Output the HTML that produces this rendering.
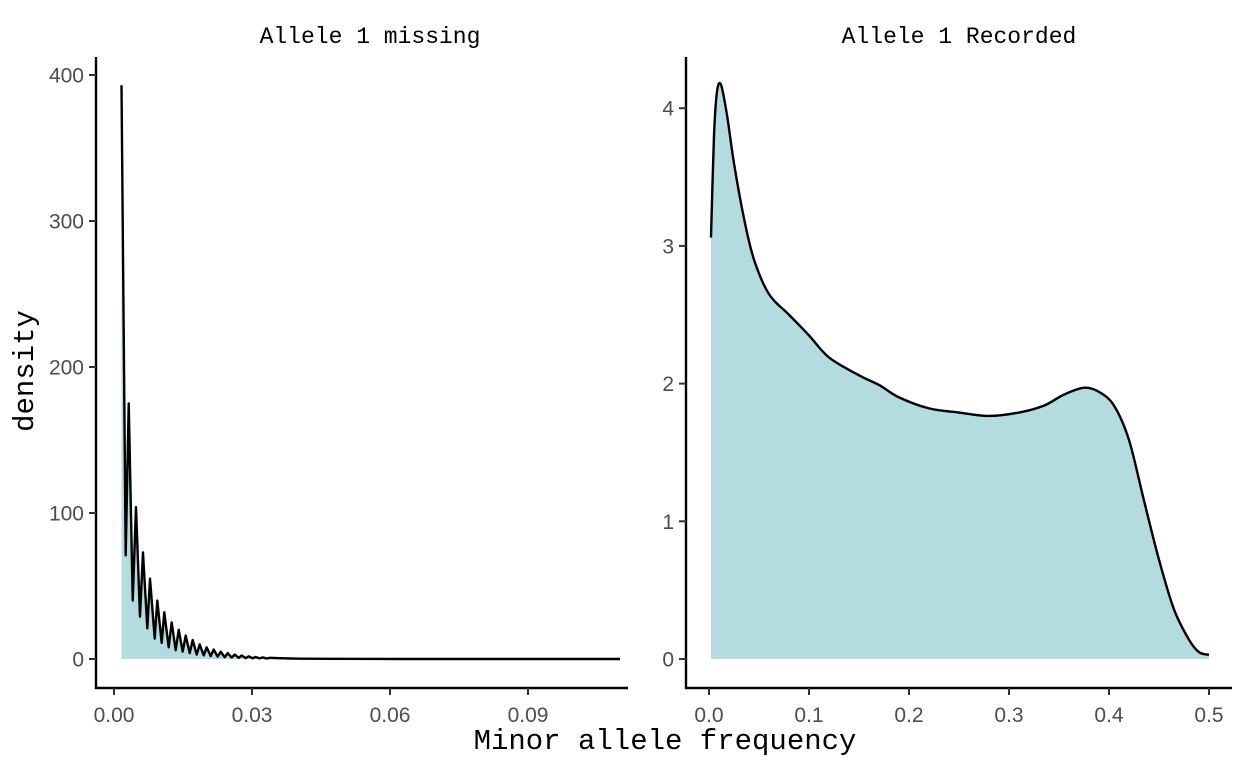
<!DOCTYPE html>
<html><head><meta charset="utf-8"><style>
html,body{margin:0;padding:0;background:#fff;}
svg{display:block;}
.tk{font-family:"Liberation Sans",sans-serif;font-size:21px;fill:#4d4d4d;}
.mono{font-family:"Liberation Mono",monospace;fill:#000;}
</style></head><body>
<svg id="c" width="1248" height="768"></svg>
<script>
// Left panel: Allele 1 missing
const leftX=[0.00163,0.00254,0.00320,0.00407,0.00478,0.00565,0.00630,0.00724,0.00783,0.00885,0.00941,0.01037,0.01093,0.01189,0.01254,0.01341,0.01407,0.01493,0.01559,0.01646,0.01711,0.01798,0.01863,0.01950,0.02015,0.02102,0.02167,0.02254,0.02320,0.02407,0.02472,0.02559,0.02624,0.02711,0.02776,0.02863,0.02928,0.03015,0.03080,0.03167,0.03233,0.03320,0.03385,0.03537,0.03689,0.03841,0.04043,0.04696,0.06217,0.110];
const leftY=[393,71,175,40,104,29,73,21,55,14,40,11,32,8,25,6,20,5,16,4,13,3,10,2.5,8,2,6.5,1.6,5,1.2,4,1,3,0.8,2.4,0.6,1.8,0.5,1.4,0.4,1.1,0.3,0.8,0.6,0.45,0.35,0.2,0.1,0,0];
const leftXTicks=[0,0.03,0.06,0.09];
const leftXLabels=["0.00","0.03","0.06","0.09"];
const leftYTicks=[0,100,200,300,400];
// Right panel: Allele 1 Recorded
const rightX=[0.002,0.005,0.008,0.012,0.018,0.025,0.035,0.045,0.060,0.080,0.100,0.120,0.150,0.170,0.190,0.220,0.250,0.280,0.310,0.335,0.355,0.375,0.390,0.405,0.420,0.435,0.450,0.465,0.480,0.490,0.500];
const rightY=[3.06,3.8,4.12,4.17,3.95,3.6,3.2,2.9,2.65,2.5,2.35,2.19,2.06,1.99,1.9,1.82,1.79,1.765,1.79,1.84,1.92,1.97,1.94,1.84,1.59,1.15,0.72,0.36,0.14,0.05,0.03];
const rightXTicks=[0,0.1,0.2,0.3,0.4,0.5];
const rightXLabels=["0.0","0.1","0.2","0.3","0.4","0.5"];
const rightYTicks=[0,1,2,3,4];

const NS="http://www.w3.org/2000/svg";
const svg=document.getElementById('c');
function mk(t,a,p){const e=document.createElementNS(NS,t);for(const k in a)e.setAttribute(k,a[k]);(p||svg).appendChild(e);return e;}

function panel(o){
  const g=mk('g',{});
  
  
  const sx=v=>o.x0+(v-o.xmin)*o.xs, sy=v=>o.y0-v*o.ys;
  const xs=o.X.map(sx), ys=o.Y.map(sy);
  let d;
  if(o.smooth){
    d='M'+xs[0]+','+ys[0];
    for(let i=0;i<xs.length-1;i++){
      const p0=i>0?i-1:i,p3=i+2<xs.length?i+2:i+1;
      const c1x=xs[i]+(xs[i+1]-xs[p0])/6,c1y=ys[i]+(ys[i+1]-ys[p0])/6;
      const c2x=xs[i+1]-(xs[p3]-xs[i])/6,c2y=ys[i+1]-(ys[p3]-ys[i])/6;
      d+=' C'+c1x+','+c1y+' '+c2x+','+c2y+' '+xs[i+1]+','+ys[i+1];
    }
  } else d='M'+xs.map((x,i)=>x+','+ys[i]).join(' L');
  const area=mk('path',{d:d+' L'+xs[xs.length-1]+','+sy(0)+' L'+xs[0]+','+sy(0)+' Z',fill:'#b4dce0',stroke:'none'},g);
  
  
  const ln=mk('path',{d:d,fill:'none',stroke:'#000','stroke-width':2.4,'stroke-linejoin':'round'},g);
  
  
  mk('line',{x1:o.ax,y1:57,x2:o.ax,y2:689,stroke:'#000','stroke-width':2.4},g);
  mk('line',{x1:o.ax-1,y1:688,x2:o.axEnd,y2:688,stroke:'#000','stroke-width':2.4},g);
  o.xt.forEach((v,i)=>{
    const x=sx(v);
    mk('line',{x1:x,y1:688,x2:x,y2:695,stroke:'#333','stroke-width':2},g);
    const t=mk('text',{x:x,y:722,'text-anchor':'middle',class:'tk'},g);t.textContent=o.xl[i];
    
    
  });
  o.yt.forEach(v=>{
    const y=sy(v);
    mk('line',{x1:o.ax-7,y1:y,x2:o.ax,y2:y,stroke:'#333','stroke-width':2},g);
    const t=mk('text',{x:o.ax-12,y:y+7.5,'text-anchor':'end',class:'tk'},g);t.textContent=String(v);
    
    
  });
  const st=mk('text',{x:o.tx,y:43,'text-anchor':'middle',class:'mono','font-size':'23px'},g);
  st.textContent=o.title;
  
  
}
panel({name:'panel-allele-missing',X:leftX,Y:leftY,xmin:0,x0:114,xs:138/0.03,y0:659,ys:1.46,ax:96,axEnd:628,xt:leftXTicks,xl:leftXLabels,yt:leftYTicks,title:'Allele 1 missing',tx:370,smooth:false});
panel({name:'panel-allele-recorded',X:rightX,Y:rightY,xmin:0,x0:709,xs:1000,y0:659,ys:137.7,ax:686,axEnd:1232,xt:rightXTicks,xl:rightXLabels,yt:rightYTicks,title:'Allele 1 Recorded',tx:959,smooth:true});

const xt=mk('text',{x:665,y:749,'text-anchor':'middle',class:'mono','font-size':'29px'});
xt.textContent='Minor allele frequency';


const yt=mk('text',{x:0,y:0,'text-anchor':'middle',class:'mono','font-size':'29px',transform:'translate(33,371) rotate(-90)'});
yt.textContent='density';


</script>
</body></html>
